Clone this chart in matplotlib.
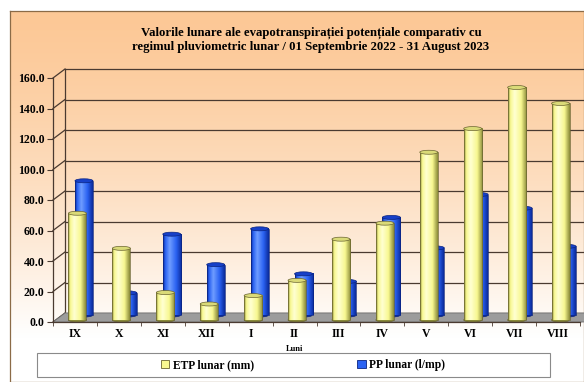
import numpy as np
import matplotlib
matplotlib.use("Agg")
import matplotlib.pyplot as plt
from matplotlib.patches import Rectangle, Ellipse, Polygon
from matplotlib.lines import Line2D

plt.rcParams['font.family'] = ['Liberation Serif', 'DejaVu Serif']
plt.rcParams['font.weight'] = 'bold'

# date
luni = ['IX', 'X', 'XI', 'XII', 'I', 'II', 'III', 'IV', 'V', 'VI', 'VII', 'VIII']
etp = [70.0, 47.0, 18.0, 10.5, 16.0, 26.0, 53.0, 63.5, 110.0, 125.5, 152.5, 142.0]
pp = [88.0, 14.5, 53.0, 33.0, 56.5, 27.0, 22.0, 64.0, 44.0, 79.0, 70.0, 45.0]
y_ticks = [0, 20, 40, 60, 80, 100, 120, 140, 160]

W, H = 584, 382
fig = plt.figure(figsize=(W / 100, H / 100), dpi=100)
fig.patch.set_facecolor('white')

# fundal zona graficului (gradient portocaliu -> alb)
bg = fig.add_axes([10 / W, 0, 1 - 10 / W, 1 - 11 / H], zorder=0)
top = np.array([252, 200, 150]) / 255
bot = np.array([255, 255, 255]) / 255
t = np.linspace(0, 1, 256)[:, None]
t = np.clip(t / 0.88, 0, 1) ** 1.4
grad = top[None, None, :] * (1 - t[..., None]) + bot[None, None, :] * t[..., None]
bg.imshow(grad, aspect='auto', extent=[0, 1, 0, 1], origin='upper')
bg.set_xticks([])
bg.set_yticks([])
for s in bg.spines.values():
    s.set_color('#8b6b47')
    s.set_linewidth(0.9)

# axa principala (planul din fata)
ax = fig.add_axes([53 / W, 1 - 322 / H, 527 / W, 244 / H], zorder=1)
ax.set_facecolor('none')

px_x = 527 / 12.0   # pixeli pe unitate x
px_y = 244 / 160.0  # pixeli pe unitate y
dbx, dby = 12 / px_x, 9 / px_y  # adancimea peretelui din spate

grid_c = '#4a3a30'
x0, x1 = -0.5, len(luni) - 0.5
for v in y_ticks:
    ax.add_line(Line2D([x0 + dbx, x1 + dbx + 1], [v + dby, v + dby], color=grid_c, lw=0.9,
                       clip_on=False, zorder=1))
    ax.add_line(Line2D([x0, x0 + dbx], [v, v + dby], color=grid_c, lw=0.9,
                       clip_on=False, zorder=1))
ax.add_line(Line2D([x0 + dbx, x0 + dbx], [dby, 160 + dby], color=grid_c, lw=0.9,
                   clip_on=False, zorder=1))

# podeaua gri
ax.add_patch(Polygon([[x0, 0], [x1 + 1, 0], [x1 + 1 + dbx, dby], [x0 + dbx, dby]],
                     closed=True, facecolor='#9c9c9c', edgecolor='#707070', lw=0.6,
                     clip_on=False, zorder=2))


def cyl_colors(base, dark, light):
    base, dark, light = [np.array(matplotlib.colors.to_rgb(c)) for c in (base, dark, light)]
    u = np.linspace(0, 1, 64)
    prof = np.interp(u, [0, 0.12, 0.35, 0.7, 1.0], [0.0, 0.6, 1.0, 0.6, 0.0])
    col = np.where(prof[:, None] < 0.6,
                   dark + (base - dark) * (prof[:, None] / 0.6),
                   base + (light - base) * ((prof[:, None] - 0.6) / 0.4))
    return col[None, :, :]


def cylinders(vals, off_x, off_y, base, dark, light, edge, topc, z):
    img = cyl_colors(base, dark, light)
    bw = 18 / px_x
    eh = 4 / px_y
    for i, v in enumerate(vals):
        xc = i + off_x
        ax.add_patch(Ellipse((xc, off_y), bw, eh, facecolor=dark, edgecolor=edge,
                             lw=0.5, zorder=z, clip_on=False))
        ax.imshow(img, extent=[xc - bw / 2, xc + bw / 2, off_y, off_y + v], aspect='auto',
                  interpolation='bilinear', zorder=z + 0.1, clip_on=False)
        ax.add_line(Line2D([xc - bw / 2, xc - bw / 2], [off_y, off_y + v], color=edge,
                           lw=0.5, zorder=z + 0.2, clip_on=False))
        ax.add_line(Line2D([xc + bw / 2, xc + bw / 2], [off_y, off_y + v], color=edge,
                           lw=0.5, zorder=z + 0.2, clip_on=False))
        ax.add_patch(Ellipse((xc, off_y + v), bw, eh, facecolor=topc, edgecolor=edge,
                             lw=0.5, zorder=z + 0.3, clip_on=False))


cylinders(pp, 9 / px_x, 7 / px_y, '#2a62f2', '#0a2a9a', '#6f9dff', '#0a2480', '#1740c8', 3)
cylinders(etp, 2.5 / px_x, 2 / px_y, '#f8f890', '#8a8a38', '#ffffd2', '#6a6430', '#dada78', 5)

ax.set_xlim(-0.5, len(luni) - 0.5)
ax.set_ylim(0, 160)

for s in ['top', 'right']:
    ax.spines[s].set_visible(False)
for s in ['left', 'bottom']:
    ax.spines[s].set_color(grid_c)
    ax.spines[s].set_linewidth(0.9)
    ax.spines[s].set_zorder(6)

ax.set_yticks(y_ticks)
ax.set_yticklabels([f'{v:.1f}' for v in y_ticks], fontsize=8.5, fontweight='bold')
ax.set_xticks(range(len(luni)))
ax.set_xticklabels(luni, fontsize=8.5, fontweight='bold')
ax.set_xticks(np.arange(-0.5, len(luni)), minor=True)
ax.tick_params(axis='x', which='major', length=0, pad=4)
ax.tick_params(axis='x', which='minor', length=3, color=grid_c)
ax.tick_params(axis='y', length=4, color=grid_c, pad=2)
ax.text(5, -17.5, 'Luni', ha='center', va='center', fontsize=6, fontweight='bold')

fig.text(311 / W, 1 - 40 / H,
         'Valorile lunare ale evapotranspirației potențiale comparativ cu\n'
         'regimul pluviometric lunar / 01 Septembrie 2022 - 31 August 2023',
         ha='center', va='center', fontsize=9.2, fontweight='bold', linespacing=1.25)

# legenda
fig.patches.append(Rectangle((37 / W, 1 - 377 / H), 513 / W, 24 / H, transform=fig.transFigure,
                             facecolor='white', edgecolor='#8a8a8a', lw=0.8, zorder=2))
handles = [Rectangle((0, 0), 1, 1, facecolor='#f8f890', edgecolor='#6a6430', lw=0.6),
           Rectangle((0, 0), 1, 1, facecolor='#2a62f2', edgecolor='#0a2480', lw=0.6)]
leg = fig.legend(handles, ['ETP lunar (mm)', 'PP lunar (l/mp)'], loc='center',
                 bbox_to_anchor=(303 / W, 1 - 365 / H), ncol=2, frameon=False,
                 handlelength=0.7, handleheight=0.7, handletextpad=0.3,
                 columnspacing=9, prop={'size': 8.3, 'weight': 'bold'})
leg.set_zorder(3)

fig.savefig('out.png', dpi=100)
